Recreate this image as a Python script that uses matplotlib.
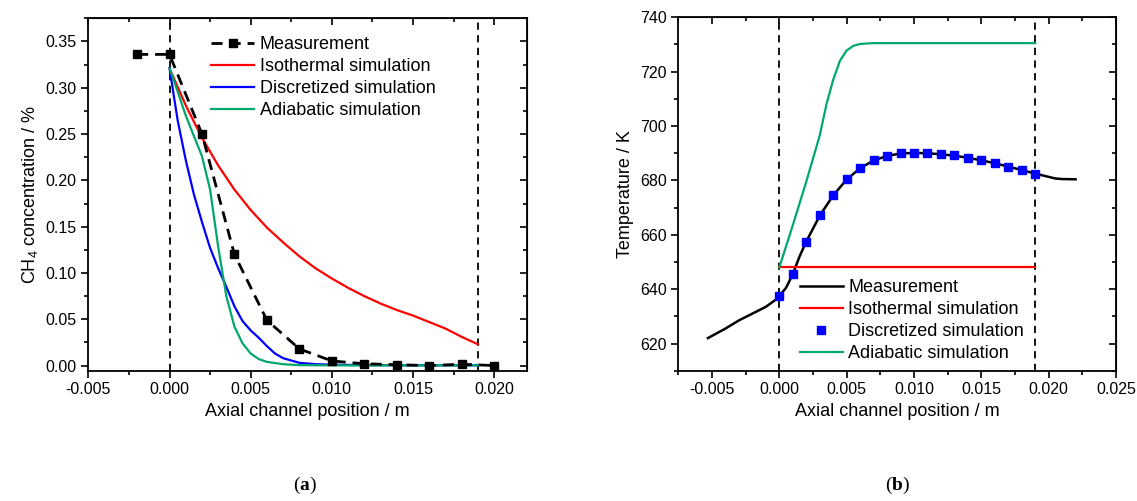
import numpy as np
import matplotlib.pyplot as plt
from matplotlib.ticker import MultipleLocator, FormatStrFormatter

plt.rcParams['font.family'] = ['Liberation Sans', 'DejaVu Sans']
plt.rcParams['mathtext.fontset'] = 'custom'
plt.rcParams['mathtext.rm'] = 'Liberation Sans'
plt.rcParams['mathtext.it'] = 'Liberation Sans:italic'
plt.rcParams['mathtext.bf'] = 'Liberation Serif:bold'

# ---- (a) CH4 concentration ----
meas_x = [-0.002, 0.000, 0.002, 0.004, 0.006, 0.008, 0.010, 0.012, 0.014, 0.016, 0.018, 0.020]
meas_c = [0.336, 0.336, 0.250, 0.120, 0.049, 0.018, 0.005, 0.002, 0.001, 0.000, 0.0015, 0.000]

iso_x = [0, .001, .002, .003, .004, .005, .006, .007, .008, .009, .010,
         .011, .012, .013, .014, .015, .016, .017, .018, .019]
iso_c = [0.321, 0.281, 0.246, 0.216, 0.190, 0.168, 0.149, 0.133, 0.118, 0.105, 0.094,
         0.084, 0.075, 0.067, 0.060, 0.054, 0.047, 0.040, 0.031, 0.023]

disc_x = [0, 0.0005, 0.001, 0.0015, 0.002, 0.0025, 0.003, 0.0035, 0.004, 0.0045, 0.005,
          0.0055, 0.006, 0.0065, 0.007, 0.008, 0.009, 0.010, 0.012, 0.015, 0.019]
disc_c = [0.321, 0.265, 0.222, 0.185, 0.155, 0.127, 0.105, 0.085, 0.064, 0.048, 0.038,
          0.030, 0.021, 0.013, 0.008, 0.003, 0.0015, 0.001, 0.0005, 0.0003, 0.0003]

adia_x = [0, 0.0005, 0.001, 0.0015, 0.002, 0.0025, 0.003, 0.0035, 0.004, 0.0045, 0.005,
          0.0055, 0.006, 0.007, 0.008, 0.010, 0.019]
adia_c = [0.321, 0.296, 0.270, 0.248, 0.226, 0.190, 0.128, 0.075, 0.042, 0.024, 0.013,
          0.007, 0.004, 0.0015, 0.0005, 0.0002, 0.0002]

# ---- (b) temperature ----
tm_x = [-0.0053, -0.004, -0.003, -0.002, -0.001, -0.0003, 0, 0.0005, 0.001, 0.0015, 0.002,
        0.003, 0.004, 0.005, 0.006, 0.007, 0.008, 0.009, 0.010, 0.011, 0.012, 0.013, 0.014,
        0.015, 0.016, 0.017, 0.018, 0.019, 0.020, 0.0205, 0.021, 0.022]
tm_T = [622.0, 625.5, 628.5, 631.0, 633.5, 636.0, 637.5, 640.5, 645.5, 652.0, 657.5,
        667.0, 674.5, 680.3, 684.5, 687.3, 689.0, 689.9, 690.1, 690.0, 689.6, 689.1, 688.3,
        687.4, 686.3, 685.1, 683.8, 682.5, 681.3, 680.7, 680.5, 680.4]

tiso_x = [0.0, 0.019]
tiso_T = [648.0, 648.0]

tdisc_x = [0.000, 0.001, 0.002, 0.003, 0.004, 0.005, 0.006, 0.007, 0.008, 0.009,
           0.010, 0.011, 0.012, 0.013, 0.014, 0.015, 0.016, 0.017, 0.018, 0.019]
tdisc_T = [637.6, 645.6, 657.3, 667.1, 674.5, 680.4, 684.6, 687.4, 688.9, 690.0,
           690.0, 690.0, 689.6, 689.2, 688.3, 687.4, 686.4, 684.8, 683.7, 682.2]

tadia_x = [0, 0.001, 0.002, 0.003, 0.0035, 0.004, 0.0045, 0.005, 0.0055, 0.006, 0.007, 0.019]
tadia_T = [648, 663.5, 679.5, 696.5, 708, 717, 724, 727.8, 729.5, 730.2, 730.5, 730.5]

reactor_edges = [0.0, 0.019]

RED = '#ff0000'
BLUE = '#0000ff'
GREEN = '#00a86b'

fig = plt.figure(figsize=(11.37, 5.01), dpi=100)
ax1 = fig.add_axes([0.0777, 0.2601, 0.3855, 0.7034])
ax2 = fig.add_axes([0.5966, 0.2601, 0.3849, 0.7054])


def style_axes(ax, xmaj, xmin, ymaj, ymin):
    ax.xaxis.set_major_locator(MultipleLocator(xmaj))
    ax.xaxis.set_minor_locator(MultipleLocator(xmin))
    ax.yaxis.set_major_locator(MultipleLocator(ymaj))
    ax.yaxis.set_minor_locator(MultipleLocator(ymin))
    ax.tick_params(which='major', direction='out', length=5, width=1.2, labelsize=11.5)
    ax.tick_params(which='minor', direction='out', length=3, width=1.2)
    for s in ax.spines.values():
        s.set_linewidth(1.3)
    # mirrored ticks pointing inwards on top / right
    top = ax.secondary_xaxis('top')
    right = ax.secondary_yaxis('right')
    for sec, axis in ((top, top.xaxis), (right, right.yaxis)):
        axis.set_major_locator(MultipleLocator(xmaj if sec is top else ymaj))
        axis.set_minor_locator(MultipleLocator(xmin if sec is top else ymin))
        sec.tick_params(which='major', direction='in', length=5, width=1.2, labelsize=0,
                        labeltop=False, labelright=False)
        sec.tick_params(which='minor', direction='in', length=3, width=1.2)
        axis.set_ticklabels([])


# panel (a)
for xe in reactor_edges:
    ax1.axvline(xe, color='black', lw=1.3, ls=(0, (4, 3)), zorder=1)
ax1.plot(meas_x, meas_c, color='black', lw=2, ls=(0, (4, 2.5)), marker='s', ms=6,
         label='Measurement', zorder=3)
ax1.plot(iso_x, iso_c, color=RED, lw=1.6, label='Isothermal simulation')
ax1.plot(disc_x, disc_c, color=BLUE, lw=1.6, label='Discretized simulation')
ax1.plot(adia_x, adia_c, color=GREEN, lw=1.6, label='Adiabatic simulation')
ax1.set_xlim(-0.005, 0.022)
ax1.set_ylim(-0.0055, 0.375)
style_axes(ax1, 0.005, 0.0025, 0.05, 0.025)
ax1.xaxis.set_major_formatter(FormatStrFormatter('%.3f'))
ax1.yaxis.set_major_formatter(FormatStrFormatter('%.2f'))
ax1.set_xlabel('Axial channel position / m', fontsize=13)
ax1.set_ylabel('CH$_4$ concentration / %', fontsize=13)
ax1.legend(loc='upper left', bbox_to_anchor=(0.243, 0.996), frameon=False, fontsize=13,
           handlelength=2.4, handletextpad=0.3, labelspacing=0.28, borderpad=0.4)

# panel (b)
for xe in reactor_edges:
    ax2.axvline(xe, color='black', lw=1.3, ls=(0, (4, 3)), zorder=1)
ax2.plot(tm_x, tm_T, color='black', lw=1.8, label='Measurement')
ax2.plot(tiso_x, tiso_T, color=RED, lw=1.6, label='Isothermal simulation')
ax2.plot(tdisc_x, tdisc_T, ls='none', marker='s', ms=5.5, color=BLUE,
         label='Discretized simulation', zorder=4)
ax2.plot(tadia_x, tadia_T, color=GREEN, lw=1.6, label='Adiabatic simulation')
ax2.set_xlim(-0.0075, 0.025)
ax2.set_ylim(610, 740)
style_axes(ax2, 0.005, 0.0025, 20, 10)
ax2.xaxis.set_major_formatter(FormatStrFormatter('%.3f'))
ax2.set_xlabel('Axial channel position / m', fontsize=13)
ax2.set_ylabel('Temperature / K', fontsize=13)
ax2.legend(loc='lower left', bbox_to_anchor=(0.24, -0.022), frameon=False, fontsize=13,
           handlelength=2.4, handletextpad=0.3, labelspacing=0.28, borderpad=0.4)

fig.text(0.268, 0.032, r'($\mathbf{a}$)', ha='center', va='center', fontsize=14,
         family=['Liberation Serif', 'DejaVu Serif'])
fig.text(0.789, 0.032, r'($\mathbf{b}$)', ha='center', va='center', fontsize=14,
         family=['Liberation Serif', 'DejaVu Serif'])

fig.savefig('out.png', dpi=100)
